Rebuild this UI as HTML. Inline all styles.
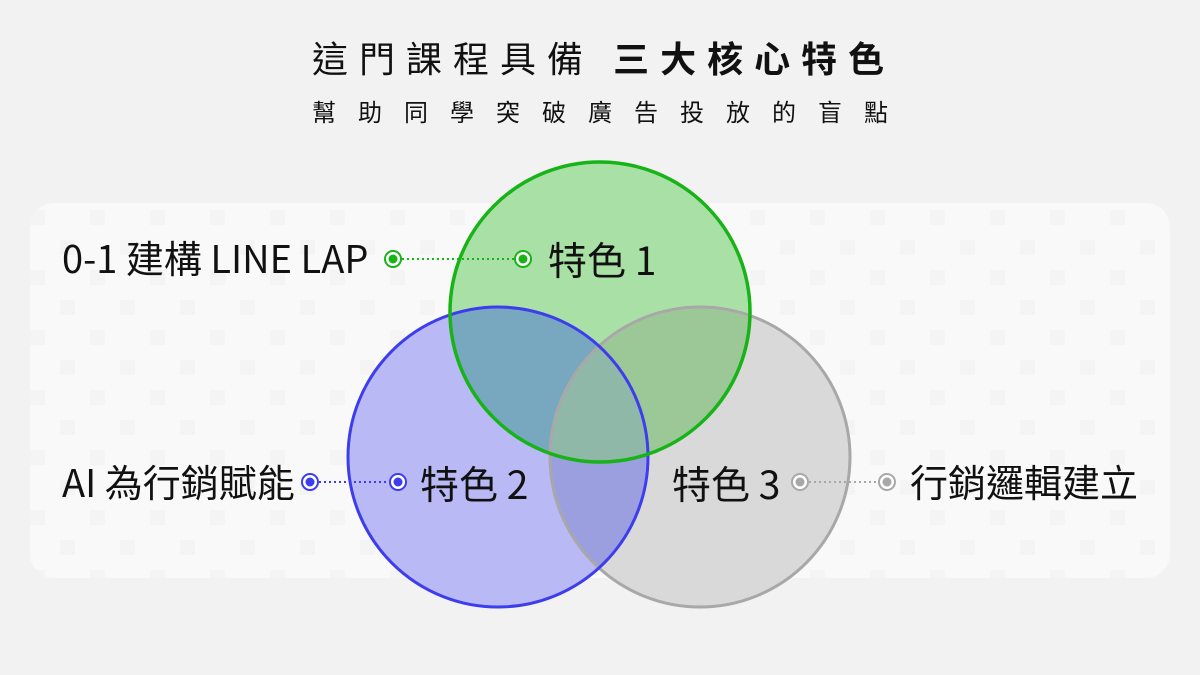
<!DOCTYPE html>
<html><head><meta charset="utf-8"><style>
body{margin:0;width:1200px;height:675px;background:#f2f2f2;overflow:hidden;}
</style></head><body>
<svg width="1200" height="675" xmlns="http://www.w3.org/2000/svg" style="position:absolute;left:0;top:0" font-family="Noto Sans CJK TC,Liberation Sans,sans-serif">
<defs>
<pattern id="ck" width="60" height="60" patternUnits="userSpaceOnUse">
<rect width="60" height="60" fill="#f9f9f9"/>
<rect x="0" y="0" width="15" height="15" fill="#f4f4f4"/>
<rect x="30" y="30" width="15" height="15" fill="#f4f4f4"/>
</pattern>
<clipPath id="cG"><circle cx="600" cy="312" r="150"/></clipPath>
<clipPath id="cB"><circle cx="498" cy="457" r="150"/></clipPath>
<clipPath id="cR"><circle cx="700" cy="457" r="150"/></clipPath>
</defs>
<rect x="30" y="203" width="1140" height="375" rx="24" fill="url(#ck)"/>
<text x="312" y="72" font-size="36" fill="#111" letter-spacing="11">這門課程具備 <tspan font-weight="bold">三大核心特色</tspan></text>
<text x="312" y="121" font-size="24" fill="#111" letter-spacing="22">幫助同學突破廣告投放的盲點</text>
<circle cx="498" cy="457" r="150" fill="#b8b9f5"/>
<circle cx="700" cy="457" r="150" fill="#d9d9d9"/>
<circle cx="600" cy="312" r="150" fill="#a8e0a6"/>
<g clip-path="url(#cG)"><circle cx="498" cy="457" r="150" fill="#77a8c0"/><circle cx="700" cy="457" r="150" fill="#9cc898"/></g>
<g clip-path="url(#cB)"><circle cx="700" cy="457" r="150" fill="#9b9fe0"/></g>
<g clip-path="url(#cB)"><g clip-path="url(#cR)"><circle cx="600" cy="312" r="150" fill="#8fb8a8"/></g></g>
<circle cx="700" cy="457" r="150" fill="none" stroke="#a8a8a8" stroke-width="3"/>
<circle cx="498" cy="457" r="150" fill="none" stroke="#3d3ded" stroke-width="3"/>
<circle cx="600" cy="312" r="150" fill="none" stroke="#17b317" stroke-width="3.5"/>
<g font-size="38" fill="#111">
<text x="62" y="273">0-1 建構 LINE LAP</text>
<text x="548" y="275" font-size="39">特色 1</text>
<text x="62" y="497">AI 為行銷賦能</text>
<text x="420" y="499" font-size="39">特色 2</text>
<text x="672" y="499" font-size="39">特色 3</text>
<text x="910" y="497">行銷邏輯建立</text>
</g>
<line x1="402" y1="259" x2="514" y2="259" stroke="#17b317" stroke-width="2" stroke-dasharray="2 3"/>
<line x1="319" y1="482" x2="389" y2="482" stroke="#3d3ded" stroke-width="2" stroke-dasharray="2 3"/>
<line x1="809" y1="482" x2="878" y2="482" stroke="#a8a8a8" stroke-width="2" stroke-dasharray="2 3"/>
<g stroke-width="2">
<circle cx="393" cy="259" r="8" fill="#fff" stroke="#17b317"/><circle cx="393" cy="259" r="4.5" fill="#17b317"/>
<circle cx="523" cy="259" r="8" fill="#fff" stroke="#17b317"/><circle cx="523" cy="259" r="4.5" fill="#17b317"/>
<circle cx="310" cy="482" r="8" fill="#fff" stroke="#3d3ded"/><circle cx="310" cy="482" r="4.5" fill="#3d3ded"/>
<circle cx="398" cy="482" r="8" fill="#fff" stroke="#3d3ded"/><circle cx="398" cy="482" r="4.5" fill="#3d3ded"/>
<circle cx="800" cy="482" r="8" fill="#fff" stroke="#a8a8a8"/><circle cx="800" cy="482" r="4.5" fill="#a8a8a8"/>
<circle cx="887" cy="482" r="8" fill="#fff" stroke="#a8a8a8"/><circle cx="887" cy="482" r="4.5" fill="#a8a8a8"/>
</g>
</svg>
</body></html>
